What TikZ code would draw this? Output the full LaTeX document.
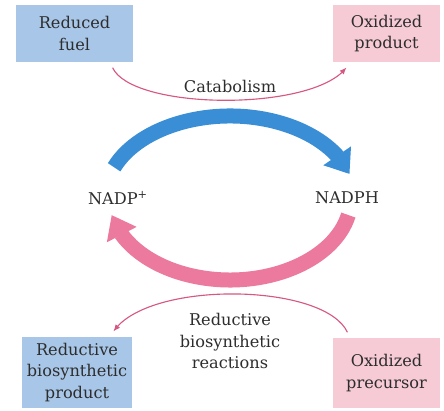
\documentclass[tikz,border=0pt]{standalone}
\usepackage{fontspec}
\setmainfont{DejaVu Serif}
\usetikzlibrary{arrows.meta,bending}

\definecolor{boxblue}{RGB}{168,199,232}
\definecolor{boxpink}{RGB}{247,203,214}
\definecolor{arcblue}{RGB}{58,142,214}
\definecolor{arcpink}{RGB}{236,122,158}
\definecolor{linepink}{RGB}{214,88,128}
\definecolor{textgray}{RGB}{45,45,45}

\begin{document}
\begin{tikzpicture}[>=latex,
					x=0.025cm, y=0.025cm,
					font=\fontsize{11.5}{15}\selectfont,
					box/.style = {align=center, inner sep=2pt, text=textgray},
					blue_box/.style = {box, fill=boxblue},
					pink_box/.style = {box, fill=boxpink},
					label/.style = {align=center, text=textgray, inner sep=1pt},
					thin_arrow/.style = {draw=linepink, line width=0.8pt, -{Latex[length=5pt, width=4pt]},
						shorten <=0.15cm, shorten >=0.15cm},
					thick_arc/.style = {line width=0.375cm, -{Triangle[width=0.8cm, length=0.55cm]}}
				]

				\useasboundingbox (0,0) rectangle (444,411);

				% boxes
				\node[blue_box, minimum width=2.925cm, minimum height=1.425cm] (fuel) at (74.5,377.5)
				{Reduced\\fuel};
				\node[pink_box, minimum width=2.675cm, minimum height=1.425cm] (product) at (386.5,377.5)
				{Oxidized\\product};
				\node[blue_box, minimum width=2.75cm, minimum height=1.775cm] (biosynth) at (77,38.5)
				{Reductive\\biosynthetic\\product};
				\node[pink_box, minimum width=2.675cm, minimum height=1.75cm] (precursor) at (386.5,38)
				{Oxidized\\precursor};

				% cofactors
				\node[label] (nadp) at (118,213) {NADP\textsuperscript{+}};
				\node[label] (nadph) at (347,213) {NADPH};
				\coordinate (cycle) at (230,213);

				\draw[thick_arc, arcblue] (cycle) ++(158:125 and 82)
				arc[start angle=158, end angle=17, x radius=125, y radius=82];
				\draw[thick_arc, arcpink] (cycle) ++(-12:121 and 82)
				arc[start angle=-12, end angle=-168, x radius=121, y radius=82];

				% thin arrows
				\draw[thin_arrow] (fuel.-39) to[out=-65, in=-115, looseness=0.59] (product.-142);
				\node[label] (catabolism) at (230,325) {Catabolism};

				\draw[thin_arrow] (precursor.136) to[out=115, in=65, looseness=0.67] (biosynth.47);
				\node[label] (reductive) at (230,70) {Reductive\\biosynthetic\\reactions};
			\end{tikzpicture}
\end{document}
